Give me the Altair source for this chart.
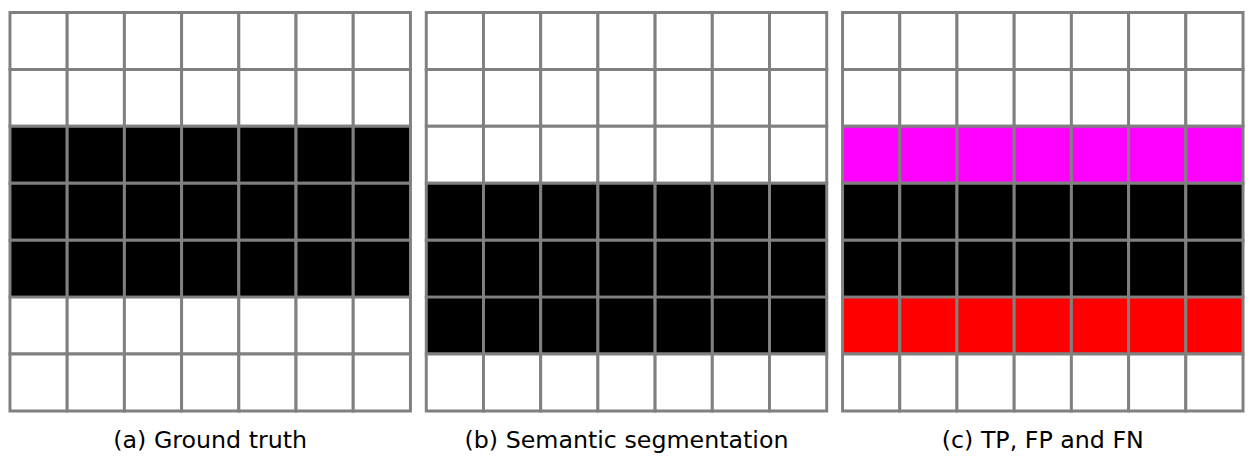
import altair as alt
import pandas as pd

N = 7
titles = ["(a) Ground truth", "(b) Semantic segmentation", "(c) TP, FP and FN"]
# class of each row (rows top to bottom), same across all 7 columns
rows_a = ["bg", "bg", "obj", "obj", "obj", "bg", "bg"]
rows_b = ["bg", "bg", "bg", "obj", "obj", "obj", "bg"]
rows_c = ["TN", "TN", "FN", "TP", "TP", "FP", "TN"]

cats = ["bg", "obj", "TN", "TP", "FN", "FP"]
cols = ["#ffffff", "#000000", "#ffffff", "#000000", "#ff00ff", "#ff0000"]


def panel(rows, title):
    recs = []
    for r, lab in enumerate(rows):
        for c in range(N):
            recs.append({"c0": c, "c1": c + 1, "r0": r, "r1": r + 1, "cls": lab})
    df = pd.DataFrame(recs)
    return alt.Chart(df).mark_rect(stroke="#808080", strokeWidth=3).encode(
        x=alt.X("c0:Q", scale=alt.Scale(domain=[0, N], nice=False, zero=False), axis=None),
        x2="c1:Q",
        y=alt.Y("r0:Q", scale=alt.Scale(domain=[0, N], nice=False, reverse=True), axis=None),
        y2="r1:Q",
        color=alt.Color("cls:N", scale=alt.Scale(domain=cats, range=cols), legend=None),
    ).properties(
        width=405, height=403,
        title=alt.TitleParams(title, orient="bottom", fontSize=24, font="DejaVu Sans",
                              fontWeight="normal", color="#000000", offset=17),
    )


chart = alt.hconcat(
    panel(rows_a, titles[0]), panel(rows_b, titles[1]), panel(rows_c, titles[2]),
    spacing=12,
).properties(padding=0).configure_view(stroke=None)

chart.save("out.html", embed_options={"renderer": "svg", "actions": False})
